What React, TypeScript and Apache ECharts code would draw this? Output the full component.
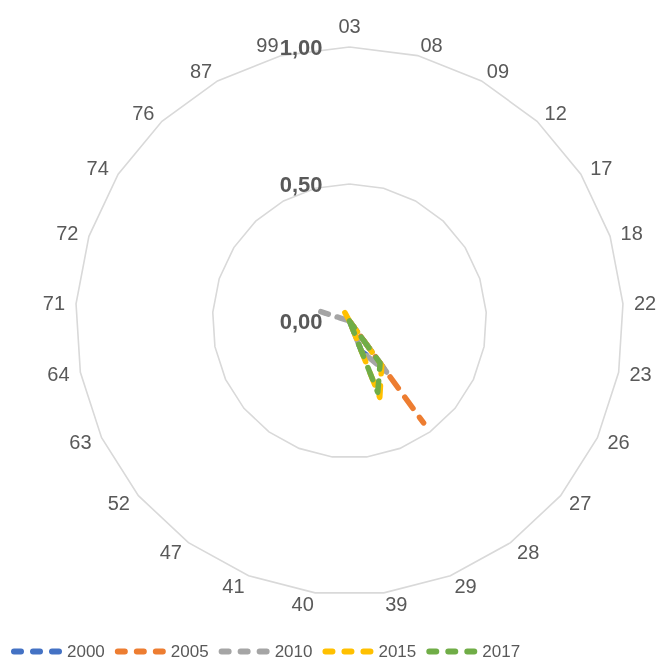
import React, { useEffect, useRef } from "react";
import * as echarts from "echarts";

// Indicator codes, listed clockwise starting from the top
const codes = [
  "03", "08", "09", "12", "17", "18", "22", "23", "26", "27", "28", "29", "39",
  "40", "41", "47", "52", "63", "64", "71", "72", "74", "76", "87", "99",
];

const years = ["2000", "2005", "2010", "2015", "2017"];

// Values per indicator, same order as `codes`
const v2000 = [0, 0, 0, 0, 0, 0, 0, 0, 0, 0, 0.2, 0.12, 0, 0, 0, 0, 0, 0, 0, 0, 0, 0, 0, 0, 0];
const v2005 = [0, 0, 0, 0, 0, 0, 0, 0, 0, 0, 0.46, 0, 0, 0, 0, 0, 0, 0, 0, 0, 0, 0, 0, 0, 0];
const v2010 = [0, 0, 0, 0, 0, 0, 0, 0, 0, 0, 0.23, 0.12, 0, 0, 0, 0, 0, 0, 0, 0, 0.11, 0, 0, 0, 0];
const v2015 = [0, 0, 0, 0, 0, 0, 0, 0, 0, 0, 0.2, 0.3, 0, 0, 0, 0, 0, 0, 0, 0, 0, 0, 0, 0.035, 0];
const v2017 = [0, 0, 0, 0, 0, 0, 0, 0, 0, 0, 0.19, 0.28, 0, 0, 0, 0, 0, 0, 0, 0, 0, 0, 0, 0, 0];

const seriesValues = [v2000, v2005, v2010, v2015, v2017];
const colors = ["#4472C4", "#ED7D31", "#A5A5A5", "#FFC000", "#70AD47"];

const TEXT = "#595959";
const FONT = "'Liberation Sans', Arial, sans-serif";

const RADIUS = 274;
const DASH = 13;
const GAP = 12;

// ECharts lays radar indicators out counter-clockwise; reorder so they read clockwise
const clockwise = <T,>(arr: T[]): T[] => [arr[0], ...arr.slice(1).reverse()];

// A spike out and back along one spoke: centre a dash on its tip so the
// outgoing and returning dashes land on top of each other.
const spikeOffset = (values: number[]) => {
  const nonZero = values.filter((v) => v > 0);
  if (nonZero.length !== 1) return 0;
  const len = nonZero[0] * RADIUS;
  const period = DASH + GAP;
  return (((DASH / 2 - len) % period) + period) % period;
};

// Legend marker: three rounded dashes
const cap = (x: number) =>
  `M${x + 3},0 H${x + 10} A3,3 0 0 1 ${x + 10},6 H${x + 3} A3,3 0 0 1 ${x + 3},0 Z`;
const dashIcon = "path://" + [0, 19, 38].map(cap).join(" ");

export default function App() {
  const ref = useRef<HTMLDivElement>(null);

  useEffect(() => {
    if (!ref.current) return;
    const chart = echarts.init(ref.current, undefined, { renderer: "svg" });

    const indicator = clockwise(codes).map((name, i) => ({
      name,
      min: 0,
      max: 1,
      ...(i === 0
        ? {
            axisLabel: {
              show: true,
              color: TEXT,
              fontSize: 22,
              fontWeight: "bold",
              fontFamily: FONT,
              margin: 27,
              formatter: (v: number) => v.toFixed(2).replace(".", ","),
            },
          }
        : {}),
    }));

    chart.setOption({
      animation: false,
      color: colors,
      legend: {
        left: 6,
        top: 638,
        itemWidth: 51,
        itemHeight: 6,
        itemGap: 10,
        icon: dashIcon,
        textStyle: {
          color: TEXT,
          fontSize: 17,
          fontFamily: FONT,
        },
        data: years,
      },
      radar: {
        center: [349.5, 321],
        radius: RADIUS,
        startAngle: 90,
        shape: "polygon",
        splitNumber: 2,
        indicator,
        axisName: {
          color: TEXT,
          fontSize: 20,
          fontFamily: FONT,
        },
        nameGap: 11,
        axisLine: { show: false },
        axisTick: { show: false },
        axisLabel: { show: false },
        splitArea: { show: false },
        splitLine: { lineStyle: { color: "#D9D9D9", width: 1.6 } },
      },
      series: years.map((y, i) => ({
        type: "radar",
        name: y,
        symbol: "none",
        itemStyle: { color: colors[i] },
        lineStyle: {
          color: colors[i],
          width: 5.5,
          type: [DASH, GAP],
          dashOffset: spikeOffset(seriesValues[i]),
          cap: "round",
          join: "round",
        },
        data: [{ name: y, value: clockwise(seriesValues[i]) }],
      })),
    });

    return () => chart.dispose();
  }, []);

  return (
    <div
      ref={ref}
      style={{ position: "fixed", left: 0, top: 0, width: 663, height: 662 }}
    />
  );
}
